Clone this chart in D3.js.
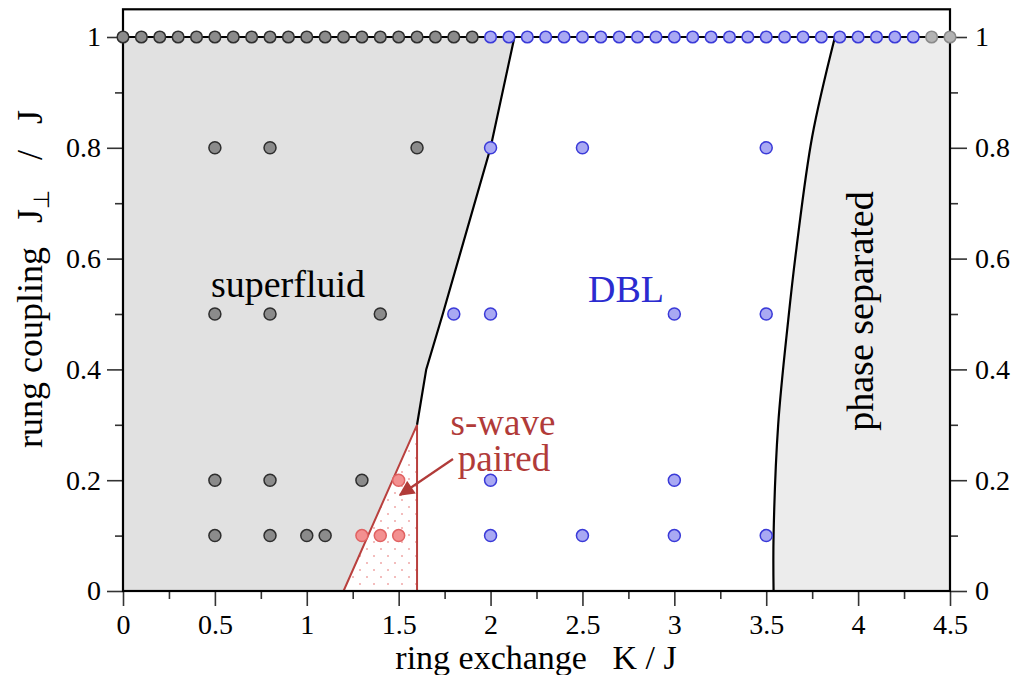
<!DOCTYPE html>
<html>
<head>
<meta charset="utf-8">
<script src="https://cdn.jsdelivr.net/npm/d3@7"></script>
<style>
  body { margin: 0; background: #fff; }
  svg text { font-family: "Liberation Serif", "Times New Roman", serif; }
</style>
</head>
<body>
<div id="chart"></div>
<script>
// phase diagram data (K/J, J_perp/J)
var topSfK  = [0, 0.1, 0.2, 0.3, 0.4, 0.5, 0.6, 0.7, 0.8, 0.9, 1.0, 1.1, 1.2, 1.3, 1.4, 1.5, 1.6, 1.7, 1.8, 1.9];
var topDblK = [2.0, 2.1, 2.2, 2.3, 2.4, 2.5, 2.6, 2.7, 2.8, 2.9, 3.0, 3.1, 3.2, 3.3, 3.4, 3.5, 3.6, 3.7, 3.8, 3.9, 4.0, 4.1, 4.2, 4.3];
var topPsK  = [4.4, 4.5];

var sfPoints = [[0.5, 0.8], [0.8, 0.8], [1.6, 0.8], [0.5, 0.5], [0.8, 0.5], [1.4, 0.5],
                [0.5, 0.2], [0.8, 0.2], [1.3, 0.2], [0.5, 0.1], [0.8, 0.1], [1.0, 0.1], [1.1, 0.1]];
var swavePoints = [[1.5, 0.2], [1.3, 0.1], [1.4, 0.1], [1.5, 0.1]];
var dblPoints = [[2.0, 0.8], [2.5, 0.8], [3.5, 0.8], [1.8, 0.5], [2.0, 0.5], [3.0, 0.5], [3.5, 0.5],
                 [2.0, 0.2], [3.0, 0.2], [2.0, 0.1], [2.5, 0.1], [3.0, 0.1], [3.5, 0.1]];

// phase boundaries
var sfBoundary = [[1.6, 0.3], [1.65, 0.4], [1.74, 0.5], [2.0, 0.8], [2.13, 1.0]];
var swaveRegion = [[1.2, 0], [1.6, 0.3], [1.6, 0]];
var psBoundary = [[3.54, 0], [3.54, 0.1], [3.565, 0.3], [3.62, 0.49], [3.665, 0.62], [3.75, 0.82], [3.874, 1.0]];

var xTicks = [0, 0.5, 1, 1.5, 2, 2.5, 3, 3.5, 4, 4.5];
var xMinor = [0.25, 0.75, 1.25, 1.75, 2.25, 2.75, 3.25, 3.75, 4.25];
var yTicks = [0, 0.2, 0.4, 0.6, 0.8, 1];
var yMinor = [0.1, 0.3, 0.5, 0.7, 0.9];

var width = 1014, height = 675;
var x = d3.scaleLinear().domain([0, 4.5]).range([123, 950]);
var y = d3.scaleLinear().domain([0, 1.05]).range([591, 9.3]);

var svg = d3.select('#chart').append('svg')
            .attr('width', width)
            .attr('height', height);

var defs = svg.append('defs');
// red dotted fill for the s-wave wedge
var dots = defs.append('pattern')
               .attr('id', 'reddots')
               .attr('patternUnits', 'userSpaceOnUse')
               .attr('width', 14).attr('height', 14);
dots.append('rect').attr('width', 14).attr('height', 14).attr('fill', '#fff');
dots.append('circle').attr('cx', 3).attr('cy', 3).attr('r', 0.8).attr('fill', '#e46a6a');
dots.append('circle').attr('cx', 10).attr('cy', 10).attr('r', 0.8).attr('fill', '#e46a6a');

var line = d3.line().x(function(d) { return x(d[0]); }).y(function(d) { return y(d[1]); });
var smooth = d3.line().curve(d3.curveCatmullRom)
               .x(function(d) { return x(d[0]); }).y(function(d) { return y(d[1]); });

// superfluid region (grey, up to J_perp = 1)
var sfRegion = [[0, 0]].concat([[1.2, 0]], sfBoundary, [[0, 1.0]]);
svg.append('path')
   .attr('d', line(sfRegion) + 'Z')
   .attr('fill', '#e1e1e1');

// phase separated region
svg.append('path')
   .attr('d', smooth(psBoundary) + 'L' + x(4.5) + ',' + y(1) + 'L' + x(4.5) + ',' + y(0) + 'Z')
   .attr('fill', '#ececec');

// s-wave paired wedge
svg.append('path')
   .attr('d', line(swaveRegion) + 'Z')
   .attr('fill', 'url(#reddots)')
   .attr('stroke', '#b9403e')
   .attr('stroke-width', 2);

// boundary lines
svg.append('path')
   .attr('d', line(sfBoundary))
   .attr('fill', 'none')
   .attr('stroke', '#000')
   .attr('stroke-width', 2.2);
svg.append('path')
   .attr('d', smooth(psBoundary))
   .attr('fill', 'none')
   .attr('stroke', '#000')
   .attr('stroke-width', 2.2);

// axes
var tickFont = 28;
svg.append('g').attr('transform', 'translate(0,' + y(0) + ')')
   .call(d3.axisBottom(x).tickValues(xTicks).tickSize(15).tickPadding(8)
          .tickFormat(function(d) { return d3.format('')(d); }));
svg.append('g').attr('transform', 'translate(0,' + y(0) + ')')
   .call(d3.axisBottom(x).tickValues(xMinor).tickSize(8).tickFormat(''));
svg.append('g').attr('transform', 'translate(' + x(0) + ',0)')
   .call(d3.axisLeft(y).tickValues(yTicks).tickSize(16).tickPadding(6)
          .tickFormat(function(d) { return d3.format('')(d); }));
svg.append('g').attr('transform', 'translate(' + x(0) + ',0)')
   .call(d3.axisLeft(y).tickValues(yMinor).tickSize(8).tickFormat(''));
svg.append('g').attr('transform', 'translate(' + x(4.5) + ',0)')
   .call(d3.axisRight(y).tickValues(yTicks).tickSize(17).tickPadding(8)
          .tickFormat(function(d) { return d3.format('')(d); }));
svg.append('g').attr('transform', 'translate(' + x(4.5) + ',0)')
   .call(d3.axisRight(y).tickValues(yMinor).tickSize(8).tickFormat(''));

svg.selectAll('.domain').remove();
svg.selectAll('.tick line').attr('stroke', '#333').attr('stroke-width', 1.6);
svg.selectAll('.tick text')
   .attr('font-size', tickFont)
   .attr('fill', '#000')
   .style('font-family', '"Liberation Serif", "Times New Roman", serif');

// frame
svg.append('rect')
   .attr('x', x(0)).attr('y', y(1.05))
   .attr('width', x(4.5) - x(0)).attr('height', y(0) - y(1.05))
   .attr('fill', 'none')
   .attr('stroke', '#000')
   .attr('stroke-width', 2.2);

// J_perp = 1 line through top row
svg.append('line')
   .attr('x1', x(0)).attr('x2', x(4.5))
   .attr('y1', y(1)).attr('y2', y(1))
   .attr('stroke', '#000')
   .attr('stroke-width', 2);

// points
function drawPoints(data, fill, stroke, r) {
    svg.append('g').selectAll('circle')
       .data(data)
       .enter()
       .append('circle')
       .attr('cx', function(d) { return x(d[0]); })
       .attr('cy', function(d) { return y(d[1]); })
       .attr('r', r)
       .attr('fill', fill)
       .attr('stroke', stroke)
       .attr('stroke-width', 1.5);
}
var one = function(k) { return [k, 1]; };
drawPoints(topSfK.map(one), '#8b8b8b', '#2e2e2e', 5.8);
drawPoints(topDblK.map(one), '#a9a9f3', '#3a3ad8', 5.8);
drawPoints(topPsK.map(one), '#b3b3b3', '#8a8a8a', 5.8);
drawPoints(sfPoints, '#8b8b8b', '#2e2e2e', 6);
drawPoints(dblPoints, '#a9a9f3', '#3a3ad8', 6);
drawPoints(swavePoints, '#f39090', '#e06262', 6);

// phase labels
var labelFont = 38;
svg.append('text')
   .attr('x', 288).attr('y', 297)
   .attr('text-anchor', 'middle')
   .attr('font-size', labelFont)
   .text('superfluid');
svg.append('text')
   .attr('x', 626).attr('y', 302)
   .attr('text-anchor', 'middle')
   .attr('font-size', labelFont)
   .attr('fill', '#2b2bd0')
   .text('DBL');
svg.append('text')
   .attr('transform', 'translate(873,311) rotate(-90)')
   .attr('text-anchor', 'middle')
   .attr('font-size', labelFont)
   .text('phase separated');
var sw = svg.append('text')
   .attr('text-anchor', 'middle')
   .attr('font-size', 37)
   .attr('fill', '#b13b39');
sw.append('tspan').attr('x', 503).attr('y', 435).text('s-wave');
sw.append('tspan').attr('x', 504).attr('y', 471).text('paired');

// arrow to the wedge
defs.append('marker')
    .attr('id', 'head')
    .attr('viewBox', '0 0 10 10')
    .attr('refX', 9).attr('refY', 5)
    .attr('markerWidth', 8).attr('markerHeight', 7)
    .attr('markerUnits', 'strokeWidth')
    .attr('orient', 'auto')
    .append('path')
    .attr('d', 'M0,0 L10,5 L0,10 Z')
    .attr('fill', '#b13b39');
svg.append('line')
   .attr('x1', 453).attr('y1', 459)
   .attr('x2', 400).attr('y2', 495)
   .attr('stroke', '#b13b39')
   .attr('stroke-width', 2.2)
   .attr('marker-end', 'url(#head)');

// axis titles
svg.append('text')
   .attr('x', 536).attr('y', 669)
   .attr('text-anchor', 'middle')
   .attr('font-size', 34)
   .style('white-space', 'pre')
   .text('ring exchange   K / J');

var yt = svg.append('text')
   .attr('transform', 'translate(42,448) rotate(-90)')
   .attr('text-anchor', 'start')
   .attr('font-size', 36)
   .style('white-space', 'pre');
yt.append('tspan').text('rung coupling');
yt.append('tspan').attr('dx', 24).text('J');
yt.append('tspan').attr('font-size', 22).attr('dy', 7).text('\u22A5');
yt.append('tspan').attr('dx', 30).attr('dy', -7).text('/');
yt.append('tspan').attr('dx', 26).text('J');
</script>
</body>
</html>
